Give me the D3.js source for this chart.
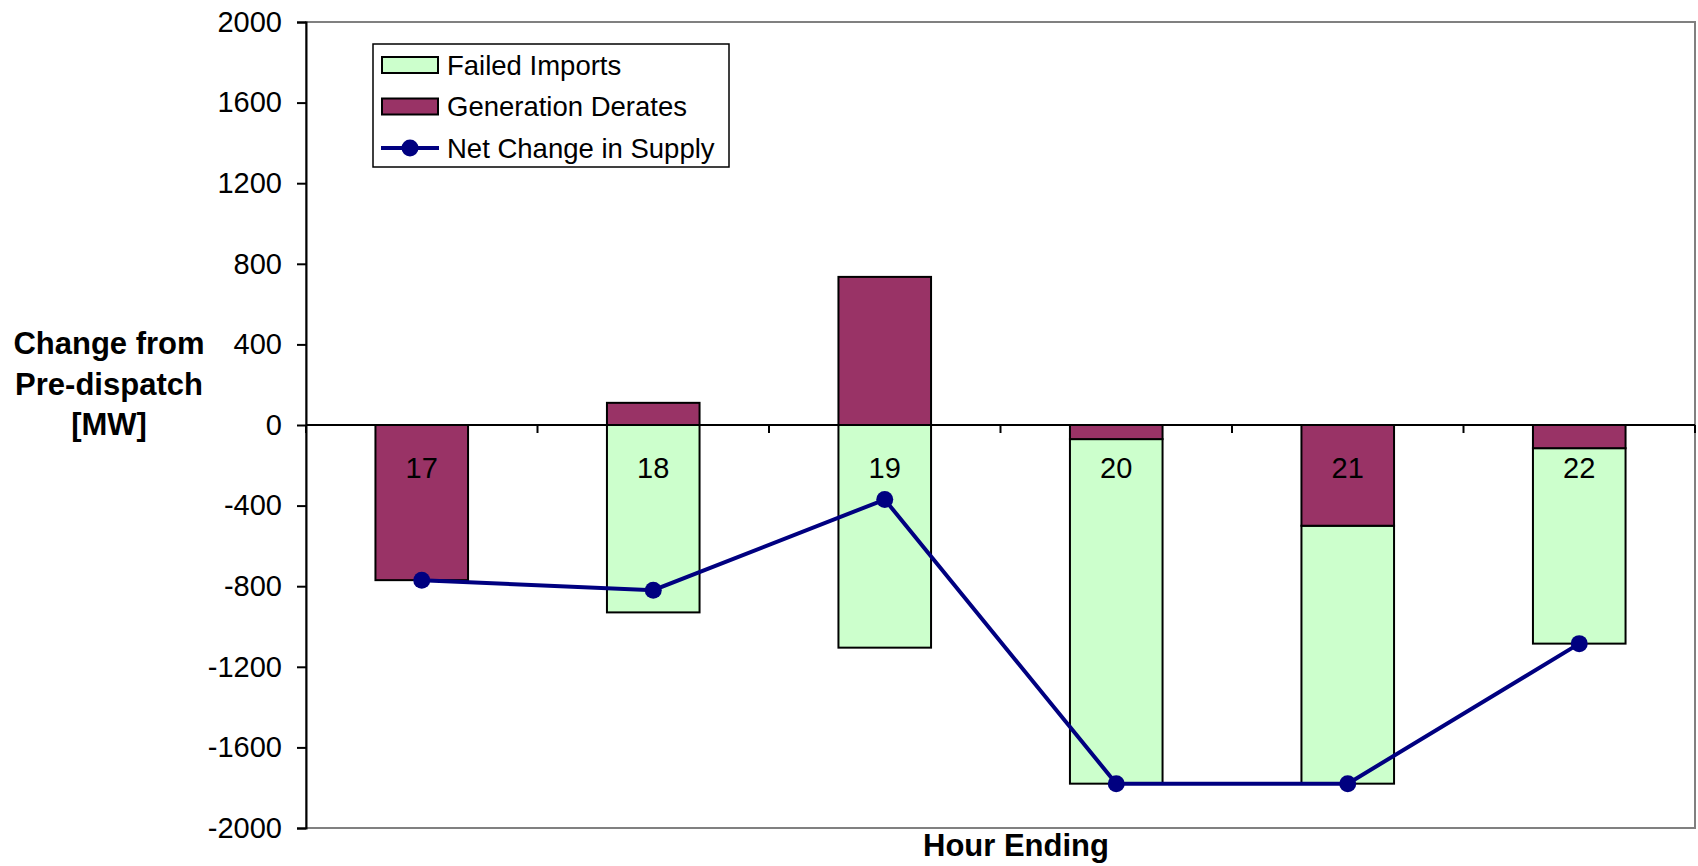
<!DOCTYPE html>
<html>
<head>
<meta charset="utf-8">
<title>Change from Pre-dispatch</title>
<script src="https://d3js.org/d3.v7.min.js"></script>
<style>
  body { margin: 0; background: #fff; }
  text { font-family: Arial, "Liberation Sans", sans-serif; }
</style>
</head>
<body>
<script>
// data
const hours = ['17', '18', '19', '20', '21', '22'];
const failedImports = [0, -930, -1105, -1710, -1280, -970];
const genDerates = [-770, 110, 735, -70, -500, -115];
const netChange = [-770, -820, -370, -1780, -1780, -1085];
const yTicks = [-2000, -1600, -1200, -800, -400, 0, 400, 800, 1200, 1600, 2000];

const W = 1698, H = 866;
const plot = { left: 306, right: 1695, top: 22, bottom: 828 };

const svg = d3.select('body').append('svg')
  .attr('width', W)
  .attr('height', H);

const x = d3.scaleBand()
  .domain(hours)
  .range([plot.left, plot.right])
  .paddingInner(0.6)
  .paddingOuter(0.3);

const y = d3.scaleLinear()
  .domain([-2000, 2000])
  .range([plot.bottom, plot.top]);

// plot area border
svg.append('rect')
  .attr('x', plot.left)
  .attr('y', plot.top)
  .attr('width', plot.right - plot.left)
  .attr('height', plot.bottom - plot.top)
  .attr('fill', 'none')
  .attr('stroke', '#808080')
  .attr('stroke-width', 2);

// stack: derates next to zero, imports beyond them
const rows = hours.map((h, i) => {
  const d = genDerates[i], f = failedImports[i];
  return {
    hour: h,
    derate: [0, d],
    imports: [d < 0 ? d : 0, (d < 0 ? d : 0) + f]
  };
});

const bars = svg.append('g');

bars.selectAll('rect.imp')
  .data(rows.filter(r => r.imports[0] !== r.imports[1]))
  .join('rect')
  .attr('class', 'imp')
  .attr('x', d => x(d.hour))
  .attr('width', x.bandwidth())
  .attr('y', d => y(Math.max(...d.imports)))
  .attr('height', d => Math.abs(y(d.imports[0]) - y(d.imports[1])))
  .attr('fill', '#CCFFCC')
  .attr('stroke', '#000')
  .attr('stroke-width', 2);

bars.selectAll('rect.der')
  .data(rows)
  .join('rect')
  .attr('class', 'der')
  .attr('x', d => x(d.hour))
  .attr('width', x.bandwidth())
  .attr('y', d => y(Math.max(...d.derate)))
  .attr('height', d => Math.abs(y(d.derate[0]) - y(d.derate[1])))
  .attr('fill', '#993366')
  .attr('stroke', '#000')
  .attr('stroke-width', 2);

// category axis at zero with ticks between categories
const xAxisG = svg.append('g');
xAxisG.append('line')
  .attr('x1', plot.left).attr('x2', plot.right)
  .attr('y1', y(0)).attr('y2', y(0))
  .attr('stroke', '#000').attr('stroke-width', 2);
const step = x.step();
const boundaries = d3.range(hours.length + 1).map(i => plot.left + i * step);
xAxisG.selectAll('line.tk')
  .data(boundaries)
  .join('line')
  .attr('class', 'tk')
  .attr('x1', d => d).attr('x2', d => d)
  .attr('y1', y(0)).attr('y2', y(0) + 8)
  .attr('stroke', '#000').attr('stroke-width', 2);

xAxisG.selectAll('text')
  .data(hours)
  .join('text')
  .attr('x', d => x(d) + x.bandwidth() / 2)
  .attr('y', y(0) + 53)
  .attr('text-anchor', 'middle')
  .attr('font-size', 29)
  .text(d => d);

// y axis
const yAxis = svg.append('g')
  .attr('transform', `translate(${plot.left},0)`)
  .call(d3.axisLeft(y).tickValues(yTicks).tickSize(9).tickPadding(15).tickFormat(d => String(d)));
yAxis.select('.domain').attr('stroke', '#000').attr('stroke-width', 2);
yAxis.selectAll('.tick line').attr('stroke', '#000').attr('stroke-width', 2);
yAxis.selectAll('.tick text')
  .attr('font-size', 29)
  .attr('font-family', 'Arial, "Liberation Sans", sans-serif')
  .attr('fill', '#000');

// net change line
const line = d3.line()
  .x((d, i) => x(hours[i]) + x.bandwidth() / 2)
  .y(d => y(d));

svg.append('path')
  .datum(netChange)
  .attr('d', line)
  .attr('fill', 'none')
  .attr('stroke', '#000080')
  .attr('stroke-width', 4);

svg.selectAll('circle.pt')
  .data(netChange)
  .join('circle')
  .attr('class', 'pt')
  .attr('cx', (d, i) => x(hours[i]) + x.bandwidth() / 2)
  .attr('cy', d => y(d))
  .attr('r', 8.5)
  .attr('fill', '#000080');

// axis titles
const yTitle = svg.append('text')
  .attr('text-anchor', 'middle')
  .attr('font-size', 31)
  .attr('font-weight', 'bold');
['Change from', 'Pre-dispatch', '[MW]'].forEach((t, i) => {
  yTitle.append('tspan').attr('x', 109).attr('y', 354 + i * 40.5).text(t);
});

svg.append('text')
  .attr('x', 1016)
  .attr('y', 856)
  .attr('text-anchor', 'middle')
  .attr('font-size', 31)
  .attr('font-weight', 'bold')
  .text('Hour Ending');

// legend
const lg = svg.append('g');
lg.append('rect')
  .attr('x', 373).attr('y', 44)
  .attr('width', 356).attr('height', 123)
  .attr('fill', '#fff').attr('stroke', '#000').attr('stroke-width', 1.5);

const legendItems = [
  { label: 'Failed Imports', fill: '#CCFFCC' },
  { label: 'Generation Derates', fill: '#993366' },
  { label: 'Net Change in Supply', line: '#000080' }
];
legendItems.forEach((it, i) => {
  const cy = 65 + i * 41.5;
  if (it.fill) {
    lg.append('rect')
      .attr('x', 382).attr('y', cy - 8)
      .attr('width', 56).attr('height', 16)
      .attr('fill', it.fill).attr('stroke', '#000').attr('stroke-width', 2);
  } else {
    lg.append('line')
      .attr('x1', 381).attr('x2', 439)
      .attr('y1', cy).attr('y2', cy)
      .attr('stroke', it.line).attr('stroke-width', 4);
    lg.append('circle')
      .attr('cx', 410).attr('cy', cy).attr('r', 8.5)
      .attr('fill', it.line);
  }
  lg.append('text')
    .attr('x', 447).attr('y', cy + 9.5)
    .attr('font-size', 27.5)
    .text(it.label);
});
</script>
</body>
</html>
